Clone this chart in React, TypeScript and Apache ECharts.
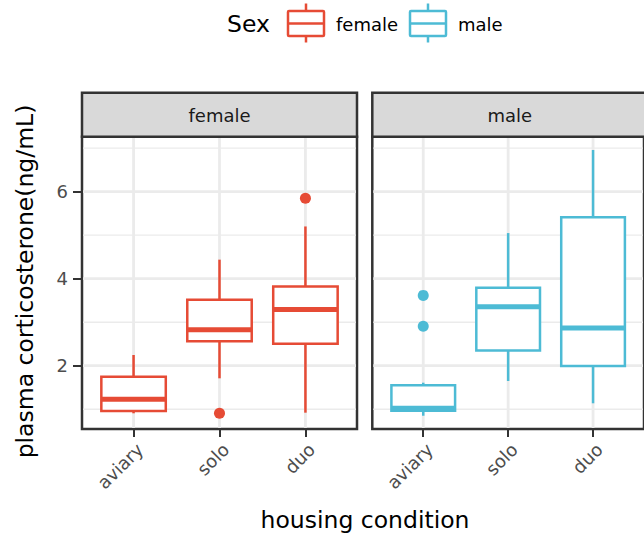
import React, { useEffect, useRef } from "react";
import * as echarts from "echarts";

const categories = ["aviary", "solo", "duo"];
const panels = ["female", "male"];
// [lower whisker, Q1, median, Q3, upper whisker]
const femaleStats = [
  [0.906, 0.959, 1.228, 1.747, 2.246],
  [1.71, 2.559, 2.828, 3.517, 4.437],
  [0.92, 2.506, 3.29, 3.82, 5.2],
];
const maleStats = [
  [0.85, 0.966, 1.02, 1.549, 1.609],
  [1.648, 2.352, 3.356, 3.793, 5.048],
  [1.136, 1.993, 2.864, 5.41, 6.958],
];
const femaleOutliers: [string, number][] = [
  ["solo", 0.906],
  ["duo", 5.85],
];
const maleOutliers: [string, number][] = [
  ["aviary", 3.616],
  ["aviary", 2.904],
];
const yTickValues = [2, 4, 6];
const yMinorValues = [1, 3, 5, 7];
const yMin = 0.545;
const yMax = 7.263;

const COLORS = { female: "#E64B35", male: "#4DBBD5" };
const FONT = "DejaVu Sans";

const boxRender = (color: string) => (params: any, api: any) => {
  const x = api.value(0);
  const lo = api.coord([x, api.value(1)]);
  const q1 = api.coord([x, api.value(2)]);
  const md = api.coord([x, api.value(3)]);
  const q3 = api.coord([x, api.value(4)]);
  const hi = api.coord([x, api.value(5)]);
  const w = api.size([0.75, 0])[0];
  const cx = lo[0];
  return {
    type: "group",
    children: [
      { type: "line", shape: { x1: cx, y1: q3[1], x2: cx, y2: hi[1] }, style: { stroke: color, lineWidth: 2.5 } },
      { type: "line", shape: { x1: cx, y1: q1[1], x2: cx, y2: lo[1] }, style: { stroke: color, lineWidth: 2.5 } },
      {
        type: "rect",
        shape: { x: cx - w / 2, y: q3[1], width: w, height: q1[1] - q3[1] },
        style: { fill: "#ffffff", stroke: color, lineWidth: 2.5 },
      },
      { type: "line", shape: { x1: cx - w / 2, y1: md[1], x2: cx + w / 2, y2: md[1] }, style: { stroke: color, lineWidth: 5 } },
    ],
  };
};

const gridRender = (params: any, api: any) => {
  const cs = params.coordSys;
  const kind = api.value(0);
  const v = api.value(1);
  if (kind === 0) {
    const y = api.coord([1, v])[1];
    const major = yTickValues.indexOf(v) >= 0;
    return {
      type: "line",
      shape: { x1: cs.x + 1, y1: y, x2: cs.x + cs.width - 1, y2: y },
      style: { stroke: "#EBEBEB", lineWidth: major ? 2.8 : 1.4 },
    };
  }
  const x = api.coord([v, 1])[0];
  return {
    type: "line",
    shape: { x1: x, y1: cs.y + 1, x2: x, y2: cs.y + cs.height - 1 },
    style: { stroke: "#EBEBEB", lineWidth: 2.8 },
  };
};

export default function App() {
  const ref = useRef<HTMLDivElement>(null);
  useEffect(() => {
    if (!ref.current) return;
    const chart = echarts.init(ref.current, null, { renderer: "svg" });
    const panelLeft = [82, 372.3];
    const panelW = 275;
    const panelTop = 136.7;
    const panelH = 292.3;

    const gridData = [
      ...yTickValues.map((v) => [0, v]),
      ...yMinorValues.map((v) => [0, v]),
      ...categories.map((_, i) => [1, i + 1]),
    ];

    const statsByPanel = [femaleStats, maleStats];
    const outByPanel = [femaleOutliers, maleOutliers];

    const grids = panelLeft.map((l) => ({
      left: l,
      top: panelTop,
      width: panelW,
      height: panelH,
      show: true,
      borderColor: "#333333",
      borderWidth: 2.5,
      backgroundColor: "#ffffff",
      containLabel: false,
    }));

    const xAxes = panelLeft.map((_, i) => ({
      type: "value",
      gridIndex: i,
      min: 0.4,
      max: 3.6,
      axisLine: { show: false },
      splitLine: { show: false },
      axisTick: {
        show: true,
        customValues: categories.map((_, k) => k + 1),
        length: 8,
        lineStyle: { color: "#333333", width: 2 },
      },
      axisLabel: {
        customValues: categories.map((_, k) => k + 1),
        formatter: (v: number) => categories[Math.round(v) - 1] ?? "",
        rotate: 45,
        fontSize: 18,
        fontFamily: FONT,
        color: "#4D4D4D",
        margin: 11,
        verticalAlign: "top",
      },
    }));

    const yAxes = panelLeft.map((_, i) => ({
      type: "value",
      gridIndex: i,
      min: yMin,
      max: yMax,
      axisLine: { show: false },
      splitLine: { show: false },
      axisTick: {
        show: i === 0,
        customValues: yTickValues,
        length: 9,
        lineStyle: { color: "#333333", width: 2 },
      },
      axisLabel: {
        show: i === 0,
        customValues: yTickValues,
        fontSize: 18,
        fontFamily: FONT,
        color: "#4D4D4D",
        margin: 14,
      },
    }));

    const series: any[] = [];
    panels.forEach((p, i) => {
      const color = (COLORS as any)[p];
      series.push({
        type: "custom",
        name: p + "-grid",
        xAxisIndex: i,
        yAxisIndex: i,
        renderItem: gridRender,
        data: gridData,
        silent: true,
        z: 1,
        encode: { x: -1, y: -1 },
      });
      series.push({
        type: "custom",
        name: p,
        xAxisIndex: i,
        yAxisIndex: i,
        renderItem: boxRender(color),
        data: statsByPanel[i].map((s, k) => [k + 1, ...s]),
        encode: { x: 0, y: [1, 2, 3, 4, 5] },
        z: 3,
      });
      series.push({
        type: "scatter",
        name: p + "-outliers",
        xAxisIndex: i,
        yAxisIndex: i,
        symbol: "circle",
        symbolSize: 11,
        itemStyle: { color, opacity: 1 },
        data: outByPanel[i].map(([c, v]) => [categories.indexOf(c) + 1, v]),
        z: 4,
      });
    });

    const graphics: any[] = [];
    panels.forEach((p, i) => {
      graphics.push({
        type: "rect",
        shape: { x: panelLeft[i], y: 92.7, width: panelW, height: panelTop - 92.7 },
        style: { fill: "#D9D9D9", stroke: "#333333", lineWidth: 2.5 },
        z: 10,
      });
      graphics.push({
        type: "text",
        x: panelLeft[i] + panelW / 2,
        y: 115,
        style: {
          text: p,
          fontSize: 18,
          fontFamily: FONT,
          fill: "#1A1A1A",
          textAlign: "center",
          textVerticalAlign: "middle",
        },
        z: 11,
      });
    });
    // axis titles
    graphics.push({
      type: "text",
      x: 365,
      y: 520,
      style: {
        text: "housing condition",
        fontSize: 23.5,
        fontFamily: FONT,
        fill: "#000000",
        textAlign: "center",
        textVerticalAlign: "middle",
      },
    });
    graphics.push({
      type: "text",
      x: 25,
      y: 281.5,
      rotation: Math.PI / 2,
      style: {
        text: "plasma corticosterone(ng/mL)",
        fontSize: 23.5,
        fontFamily: FONT,
        fill: "#000000",
        textAlign: "center",
        textVerticalAlign: "middle",
      },
    });
    // legend
    graphics.push({
      type: "text",
      x: 227,
      y: 24,
      style: { text: "Sex", fontSize: 23.5, fontFamily: FONT, fill: "#000000", textAlign: "left", textVerticalAlign: "middle" },
    });
    const keyX = [306, 428];
    const labX = [336, 458];
    panels.forEach((p, i) => {
      const color = (COLORS as any)[p];
      const cx = keyX[i];
      graphics.push({ type: "line", shape: { x1: cx, y1: 3.5, x2: cx, y2: 42.5 }, style: { stroke: color, lineWidth: 2.5 } });
      graphics.push({
        type: "rect",
        shape: { x: cx - 18, y: 11, width: 36, height: 25, r: 1 },
        style: { fill: "#ffffff", stroke: color, lineWidth: 2.5 },
      });
      graphics.push({ type: "line", shape: { x1: cx - 18, y1: 23.5, x2: cx + 18, y2: 23.5 }, style: { stroke: color, lineWidth: 2.5 } });
      graphics.push({
        type: "text",
        x: labX[i],
        y: 24,
        style: { text: p, fontSize: 18, fontFamily: FONT, fill: "#000000", textAlign: "left", textVerticalAlign: "middle" },
      });
    });

    chart.setOption({
      animation: false,
      backgroundColor: "#ffffff",
      textStyle: { fontFamily: FONT },
      grid: grids,
      xAxis: xAxes,
      yAxis: yAxes,
      series,
      graphic: graphics,
    });
    return () => chart.dispose();
  }, []);
  return <div ref={ref} style={{ position: "absolute", left: 0, top: 0, width: 644, height: 538 }} />;
}
